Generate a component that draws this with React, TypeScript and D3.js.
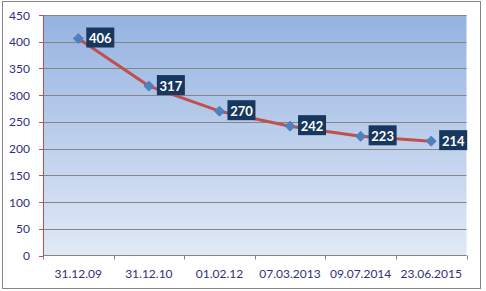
import React from "react";
import * as d3 from "d3";

const categories = ["31.12.09", "31.12.10", "01.02.12", "07.03.2013", "09.07.2014", "23.06.2015"];
const values = [406, 317, 270, 242, 223, 214];
const yTicks = [0, 50, 100, 150, 200, 250, 300, 350, 400, 450];

const W = 486, H = 291;
const plot = { left: 43, right: 466.5, top: 15, bottom: 255.5 };

export default function App() {
  const x = d3.scaleBand<string>().domain(categories).range([plot.left, plot.right]);
  const y = d3.scaleLinear().domain([0, 450]).range([plot.bottom, plot.top]);
  const cx = (c: string) => (x(c) as number) + x.bandwidth() / 2;
  const line = d3.line<number>().x((_, i) => cx(categories[i])).y((v) => y(v));
  const font = "Lato, 'Open Sans', sans-serif";
  const tickXs = [...categories.map((c) => x(c) as number), plot.right];
  return (
    <div style={{ position: "absolute", left: 0, top: 0 }}>
      <svg width={W} height={H} style={{ display: "block" }}>
        <defs>
          <linearGradient id="bg" x1="0" y1="0" x2="0" y2="1">
            <stop offset="0" stopColor="#95b3e1" />
            <stop offset="1" stopColor="#e1e9f6" />
          </linearGradient>
        </defs>
        <rect x={0} y={0} width={W} height={H} fill="#fff" />
        <rect x={2.5} y={1.5} width={478} height={287} fill="#fff" stroke="#868686" />
        <rect x={plot.left} y={plot.top} width={plot.right - plot.left} height={plot.bottom - plot.top} fill="url(#bg)" />
        {yTicks.filter((t) => t > 0).map((t) => (
          <line key={t} x1={plot.left} x2={plot.right} y1={Math.round(y(t)) + 0.5} y2={Math.round(y(t)) + 0.5} stroke="#858585" strokeWidth={1} />
        ))}
        {/* x axis */}
        <line x1={plot.left} x2={plot.right} y1={plot.bottom} y2={plot.bottom} stroke="#858585" />
        {tickXs.map((tx, i) => (
          <line key={i} x1={Math.round(tx) + 0.5} x2={Math.round(tx) + 0.5} y1={plot.bottom} y2={plot.bottom + 4} stroke="#858585" />
        ))}
        {categories.map((c) => (
          <text key={c} x={cx(c)} y={273} textAnchor="middle" dominantBaseline="central" fontFamily={font} fontSize={12} fill="#2f2f7f">{c}</text>
        ))}
        {/* y axis */}
        <line x1={plot.left + 0.5} x2={plot.left + 0.5} y1={plot.top} y2={plot.bottom} stroke="#c0504d" />
        {yTicks.map((t) => (
          <g key={t}>
            <line x1={plot.left - 4} x2={plot.left} y1={Math.round(y(t)) + 0.5} y2={Math.round(y(t)) + 0.5} stroke="#c0504d" />
            <text x={30} y={y(t)} textAnchor="end" dominantBaseline="central" fontFamily={font} fontSize={12} fill="#2f2f7f">{t}</text>
          </g>
        ))}
        <path d={line(values) || ""} fill="none" stroke="#c0504d" strokeWidth={3} strokeLinejoin="round" />
        {values.map((v, i) => {
          const px = cx(categories[i]);
          const py = y(v);
          return (
            <g key={i}>
              <path d={`M${px},${py - 5} L${px + 5},${py} L${px},${py + 5} L${px - 5},${py} Z`} fill="#4f81bd" stroke="#4f81bd" />
              <rect x={px + 8} y={py - 11} width={28} height={20} fill="#17375e" />
              <text x={px + 22} y={py - 0.5} textAnchor="middle" dominantBaseline="central" fontFamily={font} fontWeight="bold" fontSize={13} fill="#fff">{v}</text>
            </g>
          );
        })}
      </svg>
    </div>
  );
}
